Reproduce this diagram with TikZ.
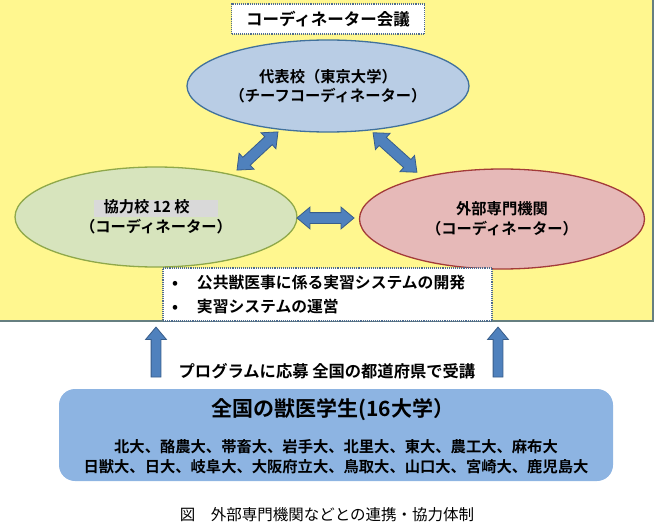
\documentclass[tikz,border=0pt]{standalone}
\usepackage{fontspec}
\setmainfont{Noto Sans CJK JP}[BoldFont={Noto Sans CJK JP Bold}]
\usepackage{xcolor}
\usetikzlibrary{shapes.geometric}
\usetikzlibrary{shapes.arrows}
\definecolor{bgyellow}{HTML}{FFF78F}
\definecolor{frameline}{HTML}{667F80}
\definecolor{dotline}{HTML}{4E6B8E}
\definecolor{leadfill}{HTML}{B9CDE5}
\definecolor{leadedge}{HTML}{41719C}
\definecolor{partfill}{HTML}{D7E4BD}
\definecolor{partedge}{HTML}{8FA84A}
\definecolor{extfill}{HTML}{E6B9B8}
\definecolor{extedge}{HTML}{A33B39}
\definecolor{arrowfill}{HTML}{4F81BD}
\definecolor{arrowedge}{HTML}{385D8A}
\definecolor{studfill}{HTML}{8DB4E2}
\definecolor{hlgray}{HTML}{D9D9D9}
\tikzset{
    jtext/.style = {align=center, inner sep=0pt, font=\bfseries\fontsize{15.3}{19.5}\selectfont},
    orgnode/.style = {jtext, ellipse, line width=1.3pt, minimum width=282pt, minimum height=100pt},
    leadorg/.style = {orgnode, draw=leadedge, fill=leadfill, minimum height=92pt},
    partorg/.style = {orgnode, draw=partedge, fill=partfill},
    extorg/.style = {orgnode, draw=extedge, fill=extfill, minimum width=285pt},
    dotbox/.style = {draw=dotline, densely dotted, line width=1.1pt, fill=white}
}
\tikzset{
    arrowbase/.style = {fill=arrowfill, draw=arrowedge, line width=0.8pt, inner sep=0pt, text height=5pt, text depth=5pt},
    linkarrow/.style = {arrowbase, double arrow, double arrow head extend=5.5pt, double arrow tip angle=80},
    riserarrow/.style = {arrowbase, single arrow, single arrow head extend=5.5pt, single arrow tip angle=80,
                         rotate=90, minimum height=50pt, text height=4.5pt, text depth=4.5pt}
}
\begin{document}
\begin{tikzpicture}[x=1pt, y=-1pt]
\useasboundingbox (0,0) rectangle (659,532);
% yellow panel
\fill[bgyellow] (0,0) rectangle (653,321);
\draw[frameline, line width=1.5pt] (653,0) -- (653,321) -- (0,321);

% coordinators
\node[dotbox, jtext, font=\bfseries\fontsize{16.5}{20}\selectfont, minimum width=193pt, minimum height=30pt]
    (meeting) at (328,19) {コーディネーター会議};
\node[leadorg] (tokyo) at (328,86) {代表校（東京大学）\\（チーフコーディネーター）};
\node[partorg] (partner) at (156,217)
    {{\setlength{\fboxsep}{0pt}\colorbox{hlgray}{\makebox[125pt][l]{\rule[-4pt]{0pt}{17pt}\hspace{10pt}協力校 12 校}}}\\（コーディネーター）};
\node[extorg] (outside) at (502,219) {外部専門機関\\（コーディネーター）};

% links between them
\node[linkarrow, rotate=43, minimum height=56pt] (tokyo-partner) at (257.5,151) {};
\node[linkarrow, rotate=-42, minimum height=59pt] (tokyo-outside) at (395,152.5) {};
\node[linkarrow, minimum height=57pt] (partner-outside) at (325.5,218) {};

% tasks
\node[dotbox, minimum width=329pt, minimum height=53pt, text width=311pt, inner xsep=9pt, inner ysep=0pt,
      align=left, font=\bfseries\fontsize{15.8}{24}\selectfont]
    (tasks) at (327.5,294.5) {\makebox[25pt][l]{•}公共獣医事に係る実習システムの開発\\\makebox[25pt][l]{•}実習システムの運営};

% students
\node[riserarrow] (applyL) at (156,355) {};
\node[riserarrow] (applyR) at (498,355) {};
\node[font=\bfseries\fontsize{16.3}{20}\selectfont] (apply) at (327,371) {プログラムに応募 全国の都道府県で受講};
\node[fill=studfill, rounded corners=16pt, minimum width=554pt, minimum height=92pt] (students) at (336,435) {};
\node[font=\bfseries\fontsize{21}{25}\selectfont] (studtitle) at (333,410) {全国の獣医学生(16大学）};
\node[align=center, font=\bfseries\fontsize{15.3}{20}\selectfont] (unis) at (336,457)
    {北大、酪農大、帯畜大、岩手大、北里大、東大、農工大、麻布大\\日獣大、日大、岐阜大、大阪府立大、鳥取大、山口大、宮崎大、鹿児島大};

\node[font=\fontsize{15.5}{18}\selectfont] (caption) at (327,515) {図　外部専門機関などとの連携・協力体制};
\end{tikzpicture}
\end{document}
